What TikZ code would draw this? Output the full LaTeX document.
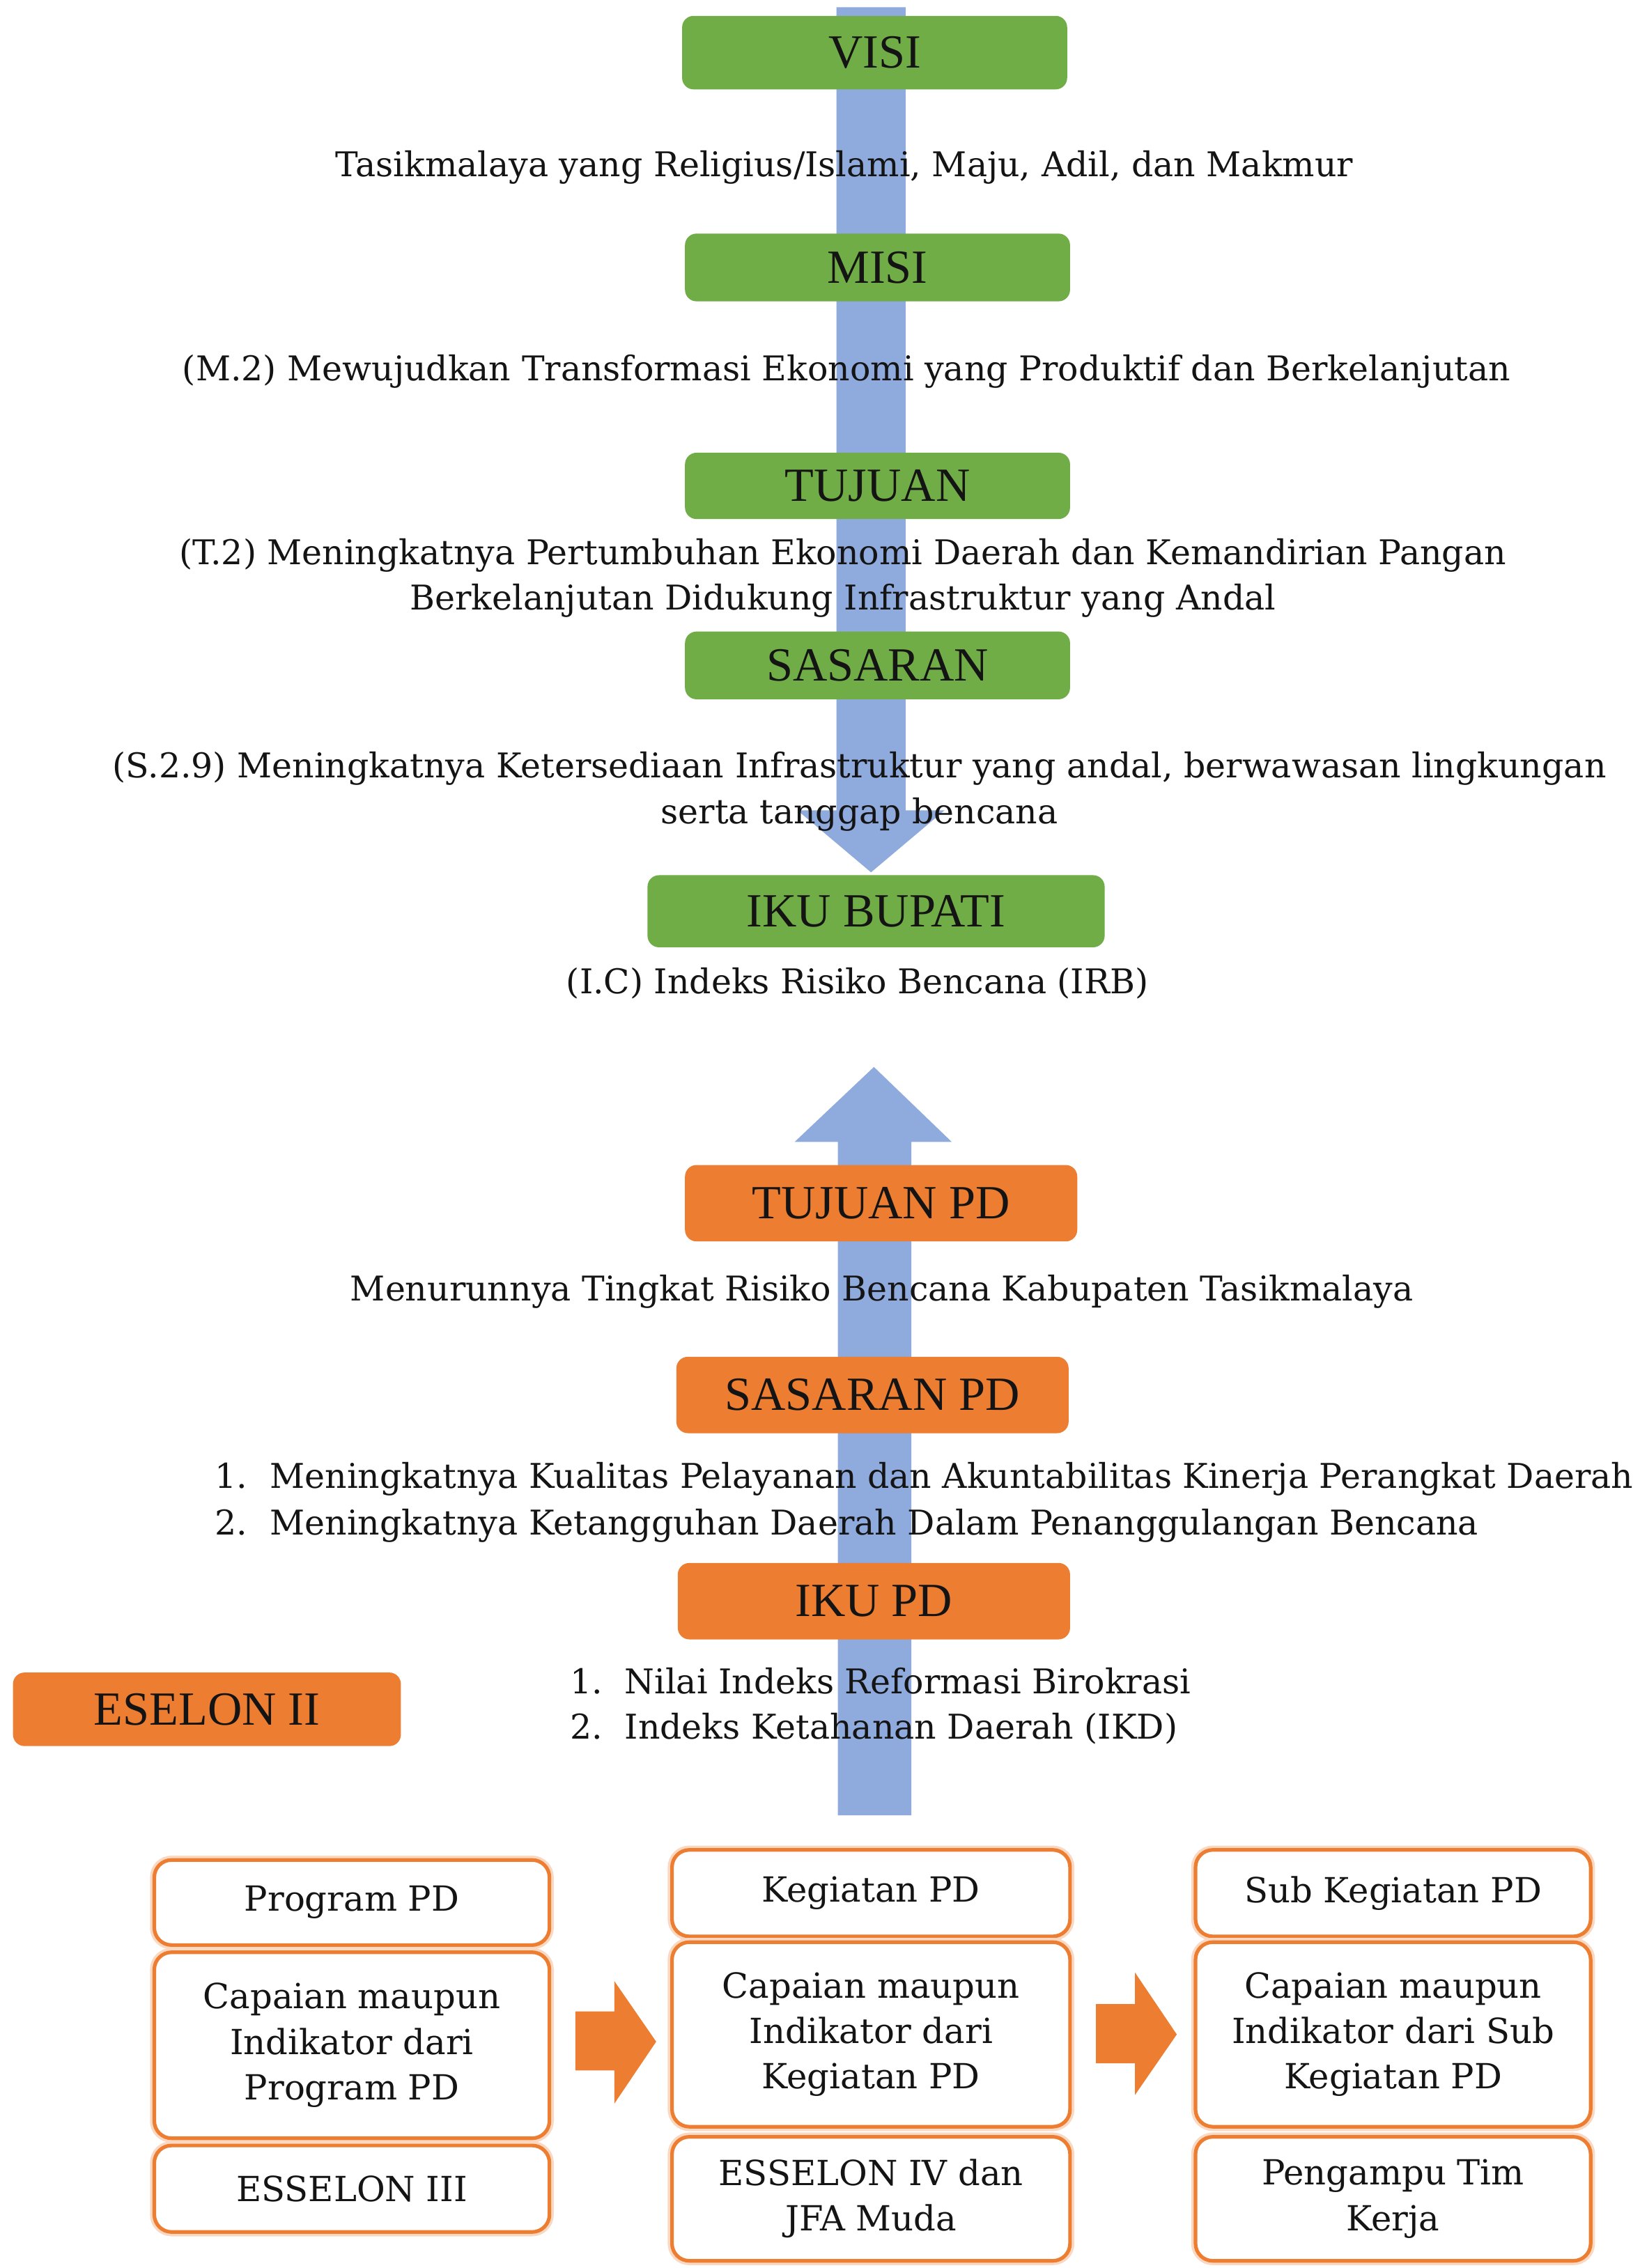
\documentclass[tikz,border=0pt]{standalone}
\usepackage{fontspec}
\setmainfont{DejaVu Serif}
\newfontfamily\lblfont{Liberation Serif}
\definecolor{gr}{RGB}{112,173,71}
\definecolor{orr}{RGB}{237,125,49}
\definecolor{bl}{RGB}{143,170,220}
\definecolor{tx}{RGB}{20,20,20}
\begin{document}
\begin{tikzpicture}[x=1pt,y=-1pt,
  lbl/.style={rounded corners=8pt, inner sep=0pt, font=\lblfont\fontsize{33}{33}\selectfont, text=tx},
  grbox/.style={lbl, fill=gr},
  orbox/.style={lbl, fill=orr},
  body/.style={font=\fontsize{23.65}{31.5}\selectfont, text=tx, inner sep=0pt, align=center},
  wbox/.style={draw=orr, line width=2.5pt, fill=white, rounded corners=12pt,
    preaction={draw=orr!30, line width=6pt},
    font=\fontsize{24}{31.5}\selectfont, text=tx, align=center, inner sep=0pt},
  blockarrow/.style={fill=bl},
  orarrow/.style={fill=orr},
]
\fill[white] (0,0) rectangle (1137,1573);
\useasboundingbox (0,0) rectangle (1137,1573);

% blue arrows
\fill[blockarrow] (580,5) -- (628,5) -- (628,562) -- (655,562) -- (604,605) -- (553,562) -- (580,562) -- cycle;
\fill[blockarrow] (581,1259) -- (632,1259) -- (632,792) -- (660,792) -- (606,740) -- (551,792) -- (581,792) -- cycle;

% green boxes
\node[grbox, minimum width=267pt, minimum height=51pt] (visi) at (606.5,36.5) {VISI};
\node[grbox, minimum width=267pt, minimum height=47pt] (misi) at (608.5,185.5) {MISI};
\node[grbox, minimum width=267pt, minimum height=46pt] (tujuan) at (608.5,337) {TUJUAN};
\node[grbox, minimum width=267pt, minimum height=47pt] (sasaran) at (608.5,461.5) {SASARAN};
\node[grbox, minimum width=317pt, minimum height=50pt] (iku) at (607.5,632) {IKU BUPATI};

% texts top
\node[body] (t1) at (585.5,116) {Tasikmalaya yang Religius/Islami, Maju, Adil, dan Makmur};
\node[body] (t2) at (587,257.5) {(M.2) Mewujudkan Transformasi Ekonomi yang Produktif dan Berkelanjutan};
\node[body] (t3) at (584.5,400.75) {(T.2) Meningkatnya Pertumbuhan Ekonomi Daerah dan Kemandirian Pangan\\Berkelanjutan Didukung Infrastruktur yang Andal};
\node[body] (t4) at (596,549) {(S.2.9) Meningkatnya Ketersediaan Infrastruktur yang andal, berwawasan lingkungan\\serta tanggap bencana};
\node[body] (t5) at (594.5,682) {(I.C) Indeks Risiko Bencana (IRB)};

% orange boxes
\node[orbox, minimum width=272pt, minimum height=53pt] (tpd) at (611,834.5) {TUJUAN PD};
\node[orbox, minimum width=272pt, minimum height=53pt] (spd) at (605,967.5) {SASARAN PD};
\node[orbox, minimum width=272pt, minimum height=53pt] (ipd) at (606,1110.5) {IKU PD};
\node[orbox, minimum width=269pt, minimum height=51pt] (es2) at (143.5,1185.5) {ESELON II};

\node[body] (t6) at (611.5,896) {Menurunnya Tingkat Risiko Bencana Kabupaten Tasikmalaya};
\node[body, anchor=west] (s1) at (149,1026) {\makebox[38pt][l]{1.}Meningkatnya Kualitas Pelayanan dan Akuntabilitas Kinerja Perangkat Daerah};
\node[body, anchor=west] (s2) at (149,1058) {\makebox[38pt][l]{2.}Meningkatnya Ketangguhan Daerah Dalam Penanggulangan Bencana};
\node[body, anchor=west] (k1) at (395,1166) {\makebox[38pt][l]{1.}Nilai Indeks Reformasi Birokrasi};
\node[body, anchor=west] (k2) at (395,1199) {\makebox[38pt][l]{2.}Indeks Ketahanan Daerah (IKD)};

% bottom boxes
\node[wbox, minimum width=274pt, minimum height=59pt] (prog) at (244,1319.5) {Program PD};
\node[wbox, minimum width=274pt, minimum height=129pt] (cap1) at (244,1418.5) {Capaian maupun\\Indikator dari\\Program PD};
\node[wbox, minimum width=274pt, minimum height=60pt] (es3) at (244,1518) {ESSELON III};

\node[wbox, minimum width=276pt, minimum height=60pt] (keg) at (604,1313) {Kegiatan PD};
\node[wbox, minimum width=276pt, minimum height=128pt] (cap2) at (604,1411) {Capaian maupun\\Indikator dari\\Kegiatan PD};
\node[wbox, minimum width=276pt, minimum height=86pt] (es4) at (604,1525) {ESSELON IV dan\\JFA Muda};

\node[wbox, minimum width=274pt, minimum height=60pt] (sub) at (966,1313) {Sub Kegiatan PD};
\node[wbox, minimum width=274pt, minimum height=128pt] (cap3) at (966,1411) {Capaian maupun\\Indikator dari Sub\\Kegiatan PD};
\node[wbox, minimum width=274pt, minimum height=86pt] (tim) at (966,1525) {Pengampu Tim\\Kerja};

% orange block arrows
\fill[orarrow] (399,1395) -- (426,1395) -- (426,1374) -- (455,1416) -- (426,1459) -- (426,1436) -- (399,1436) -- cycle;
\fill[orarrow] (760,1390) -- (787,1390) -- (787,1368) -- (816,1411) -- (787,1453) -- (787,1431) -- (760,1431) -- cycle;
\end{tikzpicture}
\end{document}
